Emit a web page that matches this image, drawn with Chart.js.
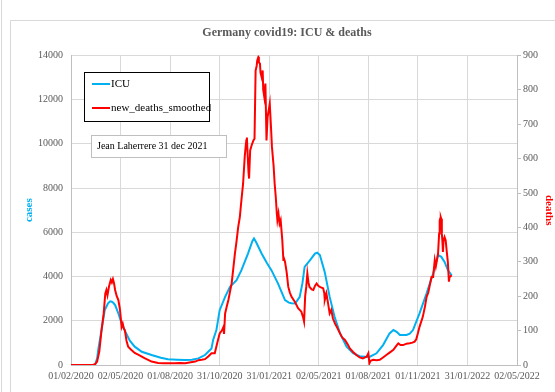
<!DOCTYPE html>
<html>
<head>
<meta charset="utf-8">
<script src="https://cdn.jsdelivr.net/npm/chart.js@4"></script>
<style>
  html, body { margin: 0; padding: 0; background: #fff; }
  #wrap { width: 555px; height: 392px; }
</style>
</head>
<body>
<div id="wrap"><canvas id="grafico"></canvas></div>
<script>
// dados: dias desde 01/02/2020 //
var tickLabels = ['01/02/2020', '02/05/2020', '01/08/2020', '31/10/2020', '31/01/2021',
    '02/05/2021', '01/08/2021', '01/11/2021', '31/01/2022', '02/05/2022'];

var icuDays = [44, 48, 50, 56, 62, 68, 72, 75, 78, 81, 87, 93, 100, 108, 117, 130, 148, 165, 178, 195,
    209, 222, 234, 246, 252, 258, 261, 267, 273, 283, 292, 304, 313, 325, 333, 336, 340, 350, 360, 368,
    380, 393, 400, 405, 411, 415, 420, 425, 429, 439, 448, 452, 457, 466, 475, 484, 494, 506, 518, 530,
    540, 549, 561, 573, 585, 592, 598, 604, 616, 622, 628, 640, 653, 665, 674, 680, 686, 692, 699];
var icuCases = [0, 300, 680, 1580, 2480, 2790, 2880, 2860, 2800, 2710, 2335, 1880, 1500, 1100, 830, 600, 450, 330, 260, 240,
    226, 240, 300, 450, 600, 750, 1130, 1580, 2480, 3080, 3540, 3840, 4290, 5040, 5600, 5720, 5550, 5040, 4600, 4290,
    3690, 2935, 2820, 2790, 2780, 2900, 3080, 3700, 4440, 4740, 5040, 5080, 4970, 4200, 3080, 2180, 1430, 830, 530, 400,
    370, 375, 530, 900, 1430, 1580, 1500, 1355, 1355, 1420, 1580, 2335, 3240, 4140, 4970, 4890, 4660, 4290, 4050];

var deathDays = [0, 40, 44, 48, 52, 56, 60, 63, 65, 67, 70, 73, 75, 77, 79, 81, 84, 87, 90, 93,
    95, 97, 99, 102, 105, 110, 117, 125, 135, 148, 160, 170, 180, 190, 200, 210, 220, 228, 234, 240,
    246, 252, 258, 264, 268, 273, 277, 280, 281, 283, 286, 289, 295, 298, 301, 304, 307, 310, 313, 316,
    319, 321, 322, 323, 324, 326, 327, 329, 332, 335, 337, 339, 341, 342, 344, 345, 347, 348, 350, 352,
    353, 355, 357, 359, 361, 363, 365, 367, 369, 372, 374, 376, 378, 379, 381, 383, 385, 388, 390, 391,
    393, 396, 399, 402, 405, 411, 417, 423, 426, 428, 430, 432, 434, 436, 438, 442, 445, 448, 451, 454,
    457, 460, 463, 465, 466, 469, 472, 475, 478, 481, 485, 488, 494, 498, 503, 508, 512, 518, 524, 530,
    536, 540, 543, 546, 548, 550, 555, 561, 567, 573, 579, 585, 592, 597, 601, 605, 610, 616, 622, 627,
    631, 634, 637, 640, 646, 650, 653, 656, 662, 665, 668, 670, 672, 674, 676, 677, 678, 679, 680, 681,
    682, 683, 684, 686, 688, 690, 692, 694, 695, 699];
var deaths = [0, 0, 2, 10, 40, 100, 150, 208, 218, 203, 230, 247, 240, 250, 238, 218, 200, 189, 160, 111,
    120, 106, 100, 70, 53, 45, 35, 29, 20, 10, 6, 5, 5, 5, 6, 5, 8, 10, 14, 15,
    17, 25, 34, 34, 60, 92, 100, 111, 90, 150, 170, 189, 237, 280, 324, 360, 401, 430, 480, 527,
    605, 640, 653, 661, 624, 560, 542, 624, 640, 653, 658, 856, 870, 885, 895, 880, 876, 850, 837, 856,
    800, 779, 818, 653, 721, 740, 760, 700, 634, 580, 527, 489, 440, 421, 440, 411, 421, 363, 305, 310,
    300, 270, 227, 210, 198, 184, 165, 155, 140, 126, 200, 227, 266, 240, 227, 220, 218, 230, 237, 230,
    227, 225, 223, 210, 189, 208, 180, 150, 160, 135, 120, 111, 92, 80, 73, 60, 48, 38, 29, 22,
    19, 22, 24, 34, 5, 12, 15, 14, 15, 22, 29, 36, 44, 55, 63, 58, 58, 62, 63, 65,
    68, 75, 92, 111, 140, 170, 198, 210, 256, 256, 305, 287, 305, 324, 382, 420, 426, 430, 425, 382,
    360, 329, 360, 372, 363, 330, 300, 242, 255, 261];

function pares(xs, ys) {
    var out = [];
    for (var i = 0; i < xs.length; i++) {
        out.push({x: xs[i], y: ys[i]});
    }
    return out;
}

var serif = 'Liberation Serif';
var azul = '#00B0F0';
var vermelho = '#FF0000';
var cinza = '#595959';

// moldura, legenda e nota //
const moldura = {
    id: 'moldura',
    beforeDraw(chart) {
        const ctx = chart.ctx;
        ctx.save();
        ctx.fillStyle = '#fff';
        ctx.fillRect(0, 0, chart.width, chart.height);
        ctx.strokeStyle = '#d9d9d9';
        ctx.lineWidth = 1;
        ctx.beginPath();
        ctx.moveTo(1.5, 0);
        ctx.lineTo(1.5, chart.height);
        ctx.moveTo(10.5, chart.height);
        ctx.lineTo(10.5, 20.5);
        ctx.lineTo(chart.width, 20.5);
        ctx.stroke();
        ctx.restore();
    },
    afterDraw(chart) {
        const ctx = chart.ctx;
        ctx.save();
        // legenda
        ctx.fillStyle = '#fff';
        ctx.fillRect(84, 72, 125, 49);
        ctx.strokeStyle = '#000';
        ctx.lineWidth = 1;
        ctx.strokeRect(84.5, 72.5, 125, 49);
        ctx.font = '11px "' + serif + '"';
        ctx.textBaseline = 'middle';
        var ys = [84, 108];
        chart.data.datasets.forEach(function (ds, i) {
            ctx.strokeStyle = ds.borderColor;
            ctx.lineWidth = 2;
            ctx.beginPath();
            ctx.moveTo(92, ys[i]);
            ctx.lineTo(110, ys[i]);
            ctx.stroke();
            ctx.fillStyle = '#000';
            ctx.fillText(ds.label, 111, ys[i]);
        });
        // nota
        ctx.fillStyle = '#fff';
        ctx.fillRect(91, 135, 135, 22);
        ctx.strokeStyle = '#bfbfbf';
        ctx.lineWidth = 1;
        ctx.strokeRect(91.5, 135.5, 135, 22);
        ctx.fillStyle = '#000';
        ctx.font = '10px "' + serif + '"';
        ctx.fillText('Jean Laherrere 31 dec 2021', 97, 146);
        ctx.restore();
    }
};

const data1 = {
    datasets: [{
        label: 'ICU',
        data: pares(icuDays, icuCases),
        borderColor: azul,
        backgroundColor: azul,
        borderWidth: 2,
        pointRadius: 0,
        yAxisID: 'y',
        order: 2
    }, {
        label: 'new_deaths_smoothed',
        data: pares(deathDays, deaths),
        borderColor: vermelho,
        backgroundColor: vermelho,
        borderWidth: 2,
        pointRadius: 0,
        yAxisID: 'y1',
        order: 1
    }]
};

const config1 = {
    type: 'line',
    data: data1,
    plugins: [moldura],
    options: {
        responsive: true,
        maintainAspectRatio: false,
        animation: false,
        layout: { padding: { left: 19, right: 0, top: 0, bottom: 0 } },
        plugins: {
            legend: { display: false },
            tooltip: { enabled: false },
            title: {
                display: true,
                text: 'Germany covid19: ICU & deaths',
                color: cinza,
                font: { family: serif, size: 12, weight: 'bold' },
                padding: { top: 26, bottom: 15 }
            }
        },
        scales: {
            x: {
                type: 'linear',
                min: 0,
                max: 819,
                afterFit: function (s) { s.height = 27; },
                afterBuildTicks: function (s) {
                    s.ticks = tickLabels.map(function (t, i) { return {value: i * 91}; });
                },
                ticks: {
                    autoSkip: false,
                    maxRotation: 0,
                    padding: 5,
                    color: cinza,
                    font: { family: serif, size: 10 },
                    callback: function (v) { return tickLabels[Math.round(v / 91)]; }
                },
                grid: { color: '#d9d9d9', drawTicks: false },
                border: { color: '#bfbfbf' }
            },
            y: {
                position: 'left',
                min: 0,
                max: 14000,
                afterFit: function (s) { s.width = 52; },
                ticks: {
                    stepSize: 2000,
                    padding: 8,
                    color: cinza,
                    font: { family: serif, size: 10 },
                    callback: function (v) { return String(v); }
                },
                grid: { color: '#d9d9d9', drawTicks: false },
                border: { color: '#bfbfbf' },
                title: {
                    display: true,
                    text: 'cases',
                    color: azul,
                    font: { family: serif, size: 11, weight: 'bold' },
                    padding: { top: 4, bottom: 4 }
                }
            },
            y1: {
                position: 'right',
                min: 0,
                max: 900,
                afterFit: function (s) { s.width = 38; },
                ticks: {
                    stepSize: 100,
                    padding: 2,
                    color: cinza,
                    font: { family: serif, size: 10 },
                    callback: function (v) { return String(v); }
                },
                grid: { drawOnChartArea: false, color: '#bfbfbf', tickLength: 4 },
                border: { color: '#bfbfbf' },
                title: {
                    display: true,
                    text: 'deaths',
                    color: vermelho,
                    font: { family: serif, size: 11, weight: 'bold' },
                    padding: { top: 0, bottom: 0 }
                }
            }
        }
    }
};

var myChart = new Chart(document.getElementById('grafico'), config1);
</script>
</body>
</html>
